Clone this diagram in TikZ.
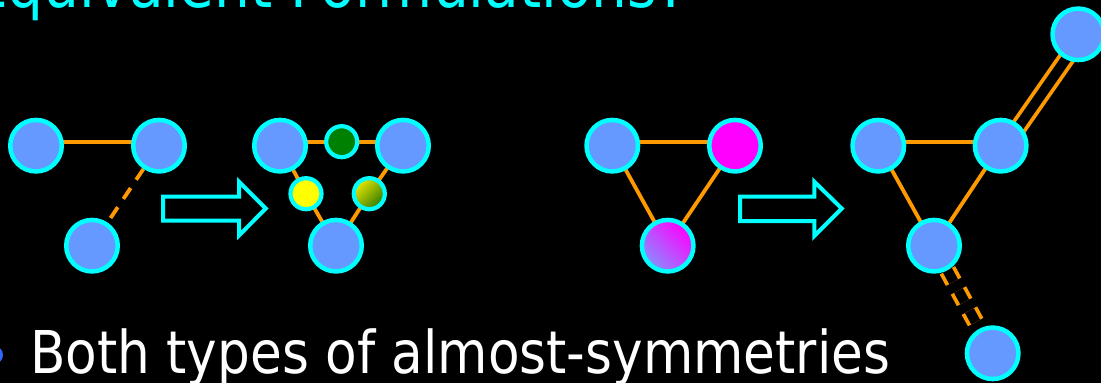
\documentclass[tikz,border=0pt]{standalone}
\usepackage{fontspec}
\setmainfont{DejaVu Sans}
\usepackage{graphicx}
\pgfdeclarelayer{bg}
\pgfdeclarelayer{edges}
\pgfsetlayers{bg,edges,main}
\definecolor{nodeblue}{HTML}{6699FF}
\definecolor{linecyan}{HTML}{00FFFF}
\definecolor{lineorange}{HTML}{FF9900}
\definecolor{darkgreen}{HTML}{008000}
\definecolor{brightyellow}{HTML}{FFFF00}
\definecolor{brightmagenta}{HTML}{FF00FF}
\definecolor{bulletblue}{HTML}{3366FF}
\definecolor{lavender}{HTML}{8A8CFF}
\definecolor{olivetop}{HTML}{E6E600}
\definecolor{olivebot}{HTML}{2E7A00}
\tikzset{
  gnode/.style={circle, draw=linecyan, line width=4.5pt, fill=nodeblue, minimum size=51.5pt, inner sep=0pt},
  snode/.style={circle, draw=linecyan, line width=4.2pt, minimum size=31pt, inner sep=0pt},
  oline/.style={draw=lineorange, line width=3.8pt},
  dline/.style={oline, dash pattern=on 13pt off 10pt},
  dbl/.style={draw=lineorange, line width=3.8pt, double=black, double distance=10pt},
  blockarrow/.style={draw=linecyan, line width=4pt, miter limit=10},
}
\begin{document}
\begin{tikzpicture}[x=1pt, y=-1pt]
\clip (0,0) rectangle (1101,383);
\begin{pgfonlayer}{bg}
\fill[black] (0,0) rectangle (1101,383);
\end{pgfonlayer}

% title and text
\node[anchor=base west, text=linecyan, inner sep=0pt] (title) at (-28,7)
  {\resizebox{715pt}{\height}{\fontsize{64pt}{70pt}\selectfont Equivalent Formulations?}};
\node[circle, fill=bulletblue, minimum size=18pt, inner sep=0pt] (bullet) at (-6,355) {};
\node[anchor=base west, text=white, inner sep=0pt] (body) at (30,373)
  {\resizebox{860pt}{\height}{\fontsize{59pt}{64pt}\selectfont Both types of almost-symmetries}};

% graph 1
\node[gnode] (A) at (36,145.7) {};
\node[gnode] (B) at (159,145.7) {};
\node[gnode] (C) at (92,245.7) {};

% arrow 1
\draw[blockarrow] (163,196.7) -- (239,196.7) -- (239,181.7) -- (265.7,208.5)
  -- (239,235.5) -- (239,220.7) -- (163,220.7) -- cycle;

% graph 2
\node[gnode] (D) at (280,145.7) {};
\node[gnode] (E) at (403,145.7) {};
\node[gnode] (F) at (336,245.7) {};
\node[snode, fill=darkgreen] (G) at (341.7,141.7) {};
\node[snode, fill=brightyellow] (Y) at (306,193.7) {};
\node[snode, top color=olivetop, bottom color=olivebot, shading angle=45] (O) at (369.3,193.7) {};

% graph 3
\node[gnode] (H) at (612.3,145.7) {};
\node[gnode, fill=brightmagenta] (I) at (735,145.7) {};
\node[gnode, top color=brightmagenta, bottom color=lavender, shading angle=-45] (J) at (667.7,245.7) {};

% arrow 2
\draw[blockarrow] (740,196.7) -- (814.3,196.7) -- (814.3,181.7) -- (841.7,208.5)
  -- (814.3,236) -- (814.3,221.2) -- (740,221.2) -- cycle;

% graph 4
\node[gnode] (K) at (878.3,145.7) {};
\node[gnode] (L) at (1000.7,145.7) {};
\node[gnode] (M) at (934,245.7) {};
\node[gnode] (N) at (1078.3,34.3) {};
\node[gnode] (P) at (992.7,353.3) {};

\begin{pgfonlayer}{edges}
  \draw[oline] ([yshift=4pt]A.center) -- ([yshift=4pt]B.center);
  \draw[dline] (B) -- (C);

  \draw[oline] ([yshift=4pt]D.center) -- (G.center) -- ([yshift=4pt]E.center);
  \draw[oline] (D.center) -- (Y.center) -- (F.center);
  \draw[oline] (E.center) -- (O.center) -- (F.center);

  \draw[oline] ([yshift=4pt]H.center) -- ([yshift=4pt]I.center);
  \draw[oline] (H.center) -- (J.center) -- (I.center);

  \draw[oline] ([yshift=4pt]K.center) -- ([yshift=4pt]L.center);
  \draw[oline] (K.center) -- (M.center) -- (L.center);
  \draw[dbl] ([shift={(3.3,2.3)}]L.center) -- ([shift={(3.3,2.3)}]N.center);
  \draw[dbl, dash pattern=on 13pt off 10pt] (M) -- (P);
\end{pgfonlayer}
\end{tikzpicture}
\end{document}
